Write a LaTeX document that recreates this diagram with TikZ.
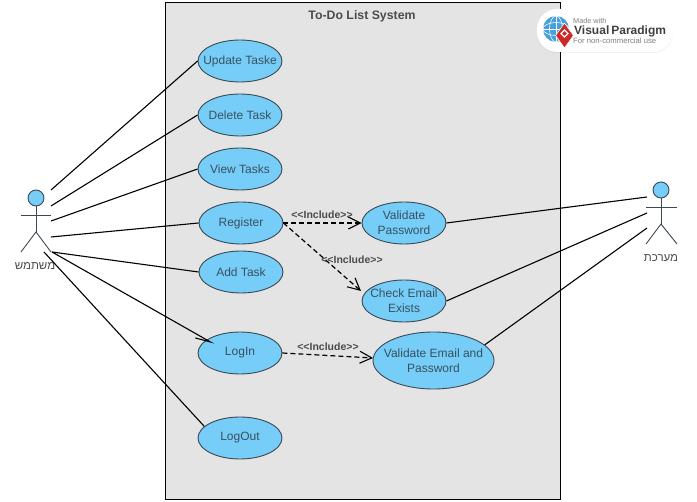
\documentclass[tikz,border=0pt]{standalone}
\usepackage{fontspec}
\setmainfont{Liberation Sans}
\newfontfamily\hebfont[Script=Hebrew]{Liberation Sans}
\TeXXeTstate=1
\usepackage{xcolor}
\usetikzlibrary{arrows.meta, shapes.geometric, shadows}
\definecolor{ucblue}{RGB}{117, 205, 248}
\definecolor{ucedge}{RGB}{60, 72, 82}
\definecolor{uctext}{RGB}{58, 80, 96}
\definecolor{sysgray}{RGB}{228, 228, 228}
\definecolor{lblgray}{RGB}{75, 75, 75}
\definecolor{vpred}{RGB}{204, 40, 40}
\definecolor{vpglobe}{RGB}{70, 160, 220}
\tikzset{
  usecase/.style={
    ellipse, draw=ucedge, fill=ucblue, line width=0.9pt,
    inner xsep=-8pt, inner ysep=-1pt, align=center, text=uctext,
    minimum width=84pt, minimum height=42pt,
    font=\fontsize{12}{15}\selectfont
  },
  assoc/.style={black, line width=1.1pt},
  incl/.style={-{Straight Barb[length=12pt,width=12pt,line width=1.1pt]}, black, line width=1.2pt,
    dash pattern=on 5pt off 3pt},
  incllabel/.style={font=\fontsize{10.5}{12}\selectfont\bfseries, text=lblgray, inner sep=0pt},
  limb/.style={ucedge, line width=0.9pt},
  actorname/.style={font=\hebfont\fontsize{11.5}{14}\selectfont, text=lblgray, inner sep=0pt},
  actorhead/.style={circle, draw=ucedge, fill=ucblue, line width=0.9pt, minimum size=16pt, inner sep=0pt},
}
\begin{document}
\begin{tikzpicture}[x=1pt, y=-1pt]
  \useasboundingbox (0,0) rectangle (697,502);

  % System
  \node[draw=black, fill=sysgray, line width=0.9pt, minimum width=395pt, minimum height=497pt,
        inner sep=0pt] (system) at (362.5,250.5) {};
  \node[font=\fontsize{12.3}{14}\selectfont\bfseries, text=lblgray, inner sep=0pt] (title) at (362,16) {To-Do List System};

  % Use cases
  \node[usecase] (update)   at (240,61)  {Update Taske};
  \node[usecase] (delete)   at (240,115) {Delete Task};
  \node[usecase] (view)     at (240,169) {View Tasks};
  \node[usecase] (register) at (241,223) {Register};
  \node[usecase] (addtask)  at (241,272) {Add Task};
  \node[usecase] (login)    at (240,353) {LogIn};
  \node[usecase] (logout)   at (240,438) {LogOut};
  \node[usecase] (valpass)  at (404,223) {Validate\\Password};
  \node[usecase] (checkmail) at (404,301) {Check Email\\Exists};
  \node[usecase, minimum width=121pt, minimum height=57pt] (valboth) at (433.5,360.5) {Validate Email and\\Password};

  % Actor, left
  \node[actorhead] (userhead) at (36,198) {};
  \coordinate (userhip) at (36,232);
  \coordinate (userarml) at (21,215);
  \coordinate (userarmr) at (51,215);
  \coordinate (userlegl) at (21,252);
  \coordinate (userlegr) at (51,252);
  \draw[limb] (userhead) -- (userhip);
  \draw[limb] (userarml) -- (userarmr);
  \draw[limb] (userlegl) -- (userhip) -- (userlegr);
  \node[actorname] (username) at (35,266) {\beginR משתמש\endR};

  % Actor, right
  \node[actorhead] (syshead) at (661,190) {};
  \coordinate (syship) at (661,224);
  \coordinate (sysarml) at (646,207);
  \coordinate (sysarmr) at (677,207);
  \coordinate (syslegl) at (646,244);
  \coordinate (syslegr) at (677,244);
  \draw[limb] (syshead) -- (syship);
  \draw[limb] (sysarml) -- (sysarmr);
  \draw[limb] (syslegl) -- (syship) -- (syslegr);
  \node[actorname] (sysname) at (661,258) {\beginR מערכת\endR};

  % Free ends
  \coordinate (u1) at (51,190);
  \coordinate (u2) at (51,206);
  \coordinate (u3) at (51,221);
  \coordinate (u4) at (51,237);
  \coordinate (u5) at (52,252);
  \coordinate (u6) at (44,252);
  \coordinate (s1) at (647,197);
  \coordinate (s2) at (647,213);
  \coordinate (s3) at (647,228);
  \coordinate (logintip) at (214,344);
  \coordinate (mailtip) at (361,291);
  \coordinate (bothtip) at (373,358);

  % Associations
  \draw[assoc] (u1) -- (update.west);
  \draw[assoc] (u2) -- (delete.west);
  \draw[assoc] (u3) -- (view.west);
  \draw[assoc] (u4) -- (register.west);
  \draw[assoc] (u5) -- (addtask.west);
  \draw[assoc, -{Straight Barb[length=15pt,width=8pt,right]}] (u5) -- (logintip);
  \draw[assoc] (u6) -- (logout.162);
  \draw[assoc] (valpass.east) -- (s1);
  \draw[assoc] (checkmail.east) -- (s2);
  \draw[assoc] (valboth.17) -- (s3);

  % Includes
  \draw[incl] (register.east) -- (valpass.west);
  \draw[incl] (register.east) -- (mailtip);
  \draw[incl] (login.east) -- (bothtip);
  \node[incllabel] (inc1) at (322,215) {<{}<Include>{}>};
  \node[incllabel] (inc2) at (352,260) {<{}<Include>{}>};
  \node[incllabel] (inc3) at (328,347) {<{}<Include>{}>};

  % Logo
  \node[rectangle, rounded corners=20pt, fill=white, minimum width=136pt, minimum height=43pt,
        drop shadow={shadow xshift=0pt, shadow yshift=-1pt, opacity=0.12}, inner sep=0pt] (badge) at (605,30.5) {};
  \node[circle, fill=vpglobe, minimum size=26pt, inner sep=0pt] (globe) at (556,29) {};
  \draw[white, line width=0.6pt] (globe.west) -- (globe.east);
  \draw[white, line width=0.6pt] (globe.north) -- (globe.south);
  \draw[white, line width=0.6pt] (globe.center) ellipse (6.5pt and 13pt);
  \draw[white, line width=0.6pt] (globe.center) ellipse (13pt and 6.5pt);
  \node[diamond, fill=vpred, draw=white, line width=0.5pt, minimum width=18pt, minimum height=25pt, inner sep=0pt] (mark) at (564.5,35.5) {};
  \node[rectangle, draw=white, line width=1.3pt, rotate=45, minimum size=5pt, inner sep=0pt] (markhole) at (564.5,33.5) {};
  \node[font=\fontsize{7.3}{8}\selectfont, text=gray, anchor=west, inner sep=0pt] (madewith) at (573,20.5) {Made with};
  \node[font=\fontsize{12}{13}\selectfont\bfseries, text=black!75, anchor=west, inner sep=0pt] (vpname) at (574,31) {Visual\,Paradigm};
  \node[font=\fontsize{7.7}{8}\selectfont, text=gray, anchor=west, inner sep=0pt] (noncomm) at (573,41) {For non-commercial use};
\end{tikzpicture}
\end{document}
